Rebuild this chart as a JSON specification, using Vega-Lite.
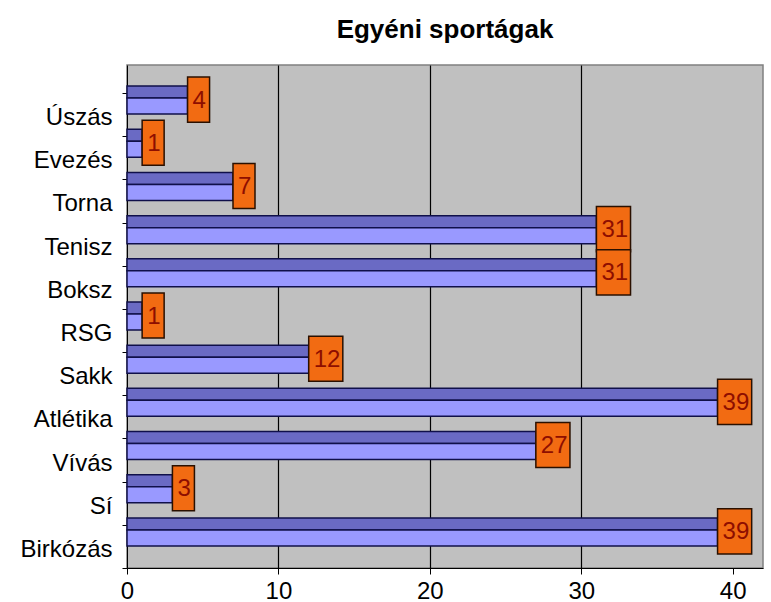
{
  "$schema": "https://vega.github.io/schema/vega-lite/v6.json",
  "width": 636,
  "height": 503,
  "autosize": {"type": "none"},
  "padding": {"left": 127, "top": 65, "right": 8, "bottom": 34},
  "background": "white",
  "title": {
    "text": "Egyéni sportágak",
    "font": "Liberation Sans, Arial, sans-serif",
    "fontSize": 26,
    "fontWeight": "bold",
    "color": "black",
    "anchor": "middle",
    "baseline": "alphabetic",
    "offset": 28,
    "dy": 39
  },
  "data": {
    "values": [
      {"sport": "Úszás", "v": 4},
      {"sport": "Evezés", "v": 1},
      {"sport": "Torna", "v": 7},
      {"sport": "Tenisz", "v": 31},
      {"sport": "Boksz", "v": 31},
      {"sport": "RSG", "v": 1},
      {"sport": "Sakk", "v": 12},
      {"sport": "Atlétika", "v": 39},
      {"sport": "Vívás", "v": 27},
      {"sport": "Sí", "v": 3},
      {"sport": "Birkózás", "v": 39}
    ]
  },
  "encoding": {
    "y": {
      "field": "sport",
      "type": "nominal",
      "sort": null,
      "scale": {"paddingInner": 0, "paddingOuter": 0.3245, "align": 1},
      "axis": {
        "title": null,
        "labelFont": "Liberation Sans, Arial, sans-serif",
        "labelFontSize": 24,
        "labelColor": "black",
        "labelPadding": 10,
        "labelOffset": 3,
        "tickBand": "extent",
        "tickSize": 5,
        "tickColor": "black",
        "domainColor": "black",
        "grid": false
      }
    },
    "x": {
      "field": "v",
      "type": "quantitative",
      "scale": {"domain": [0, 42], "nice": false},
      "axis": {
        "title": null,
        "values": [0, 10, 20, 30, 40],
        "labelFont": "Liberation Sans, Arial, sans-serif",
        "labelFontSize": 24,
        "labelColor": "black",
        "labelPadding": 5,
        "labelFlush": false,
        "tickSize": 6,
        "tickColor": "black",
        "domainColor": "black",
        "grid": true,
        "gridColor": {"condition": {"test": "datum.value == 0 || datum.value == 40", "value": "transparent"}, "value": "black"},
        "gridOpacity": 1,
        "gridWidth": 1.2
      }
    }
  },
  "layer": [
    {
      "mark": {"type": "bar", "size": 12, "yOffset": -22.5, "color": "#6A6AC4", "stroke": "#10104A", "strokeWidth": 1.5}
    },
    {
      "mark": {"type": "bar", "size": 16, "yOffset": -8.5, "color": "#9999FF", "stroke": "#10104A", "strokeWidth": 1.5}
    },
    {
      "mark": {"type": "point", "filled": true, "yOffset": -15, "fill": "#F26B12", "stroke": "#2A1000", "strokeWidth": 1.5, "opacity": 1},
      "encoding": {
        "size": {"value": 484},
        "shape": {
          "condition": {"test": "datum.v >= 10", "value": "M0,-2.05L3.1,-2.05L3.1,2.05L0,2.05Z"},
          "value": "M0,-2.05L2,-2.05L2,2.05L0,2.05Z"
        }
      }
    },
    {
      "mark": {"type": "text", "align": "left", "baseline": "middle", "dx": 5, "yOffset": -14, "font": "Liberation Sans, Arial, sans-serif", "fontSize": 24, "color": "#8E0E00"},
      "encoding": {"text": {"field": "v", "type": "quantitative"}}
    }
  ],
  "config": {
    "view": {"fill": "#C0C0C0", "stroke": "#808080", "strokeWidth": 1.5}
  }
}
